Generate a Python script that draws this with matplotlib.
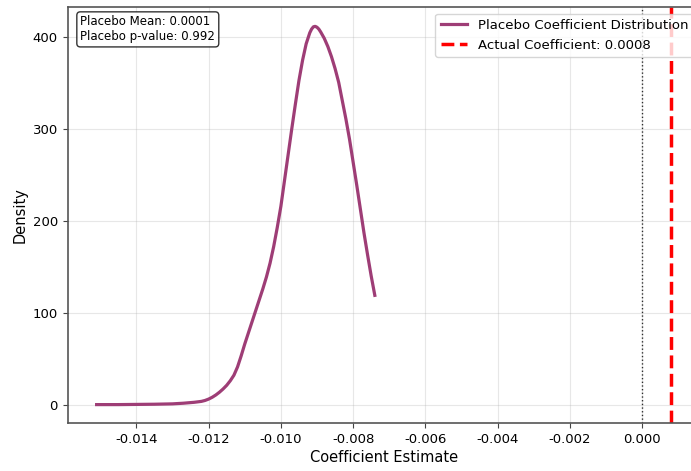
import matplotlib
matplotlib.use("Agg")
import matplotlib.pyplot as plt

# placebo kde curve
kde_x = [-0.0151, -0.0145, -0.0140, -0.0135, -0.0130, -0.0127, -0.0124, -0.0122,
         -0.0121, -0.0120, -0.0119, -0.0118, -0.0117, -0.0116, -0.0115, -0.0114,
         -0.0113, -0.0112, -0.0111, -0.0110, -0.0109, -0.0108, -0.0107, -0.0106,
         -0.0105, -0.0104, -0.0103, -0.0102, -0.0101, -0.0100, -0.0099, -0.0098,
         -0.0097, -0.0096, -0.0095, -0.0094, -0.0093, -0.0092, -0.00915, -0.0091,
         -0.00905, -0.0090, -0.00895, -0.0089, -0.0088, -0.0087, -0.0086, -0.0085,
         -0.0084, -0.0083, -0.0082, -0.0081, -0.0080, -0.0079, -0.0078, -0.0077,
         -0.0076, -0.0075, -0.0074]
kde_y = [0, 0, 0.2, 0.4, 0.8, 1.5, 2.5, 3.5,
         4.5, 6, 8, 10.5, 13.5, 17, 21, 26,
         32, 41, 53, 66, 78, 90, 102, 114,
         126, 139, 154, 172, 193, 216, 244, 272,
         300, 327, 353, 375, 393, 405, 409, 411.5,
         412, 411, 409, 406, 399, 390, 379, 366,
         351, 331, 311, 289, 264, 239, 213, 187,
         163, 140, 119]

actual_coef = 0.0008
placebo_mean = 0.0001
placebo_p = 0.992

fig = plt.figure(figsize=(6.91, 4.71), dpi=100)
ax = fig.add_axes([0.098, 0.102, 0.915, 0.883])

ax.plot(kde_x, kde_y, color="#9E3D76", linewidth=2.3, label="Placebo Coefficient Distribution")
ax.axvline(actual_coef, color="red", linestyle="--", linewidth=2.5,
           label="Actual Coefficient: %.4f" % actual_coef)
ax.axvline(0, color="black", linestyle=":", linewidth=1, alpha=0.8)

ax.set_xlim(-0.0159, 0.0016)
ax.set_ylim(-20, 433)
ax.set_xticks([-0.014, -0.012, -0.010, -0.008, -0.006, -0.004, -0.002, 0.000])
ax.set_xticklabels(["%.3f" % t for t in ax.get_xticks()])
ax.set_yticks([0, 100, 200, 300, 400])

ax.set_xlabel("Coefficient Estimate", fontsize=10.5, labelpad=3)
ax.set_ylabel("Density", fontsize=10.5)
ax.tick_params(labelsize=9.5, color="#444444")
ax.grid(True, alpha=0.3)
for s in ax.spines.values():
    s.set_color("#555555")
    s.set_linewidth(1.2)

ax.legend(loc="upper right", fontsize=9.5)
ax.text(0.02, 0.98, "Placebo Mean: %.4f\nPlacebo p-value: %.3f" % (placebo_mean, placebo_p),
        transform=ax.transAxes, fontsize=8.5, va="top",
        bbox=dict(boxstyle="round", facecolor="white", alpha=0.8))

fig.savefig("out.png", dpi=100)
